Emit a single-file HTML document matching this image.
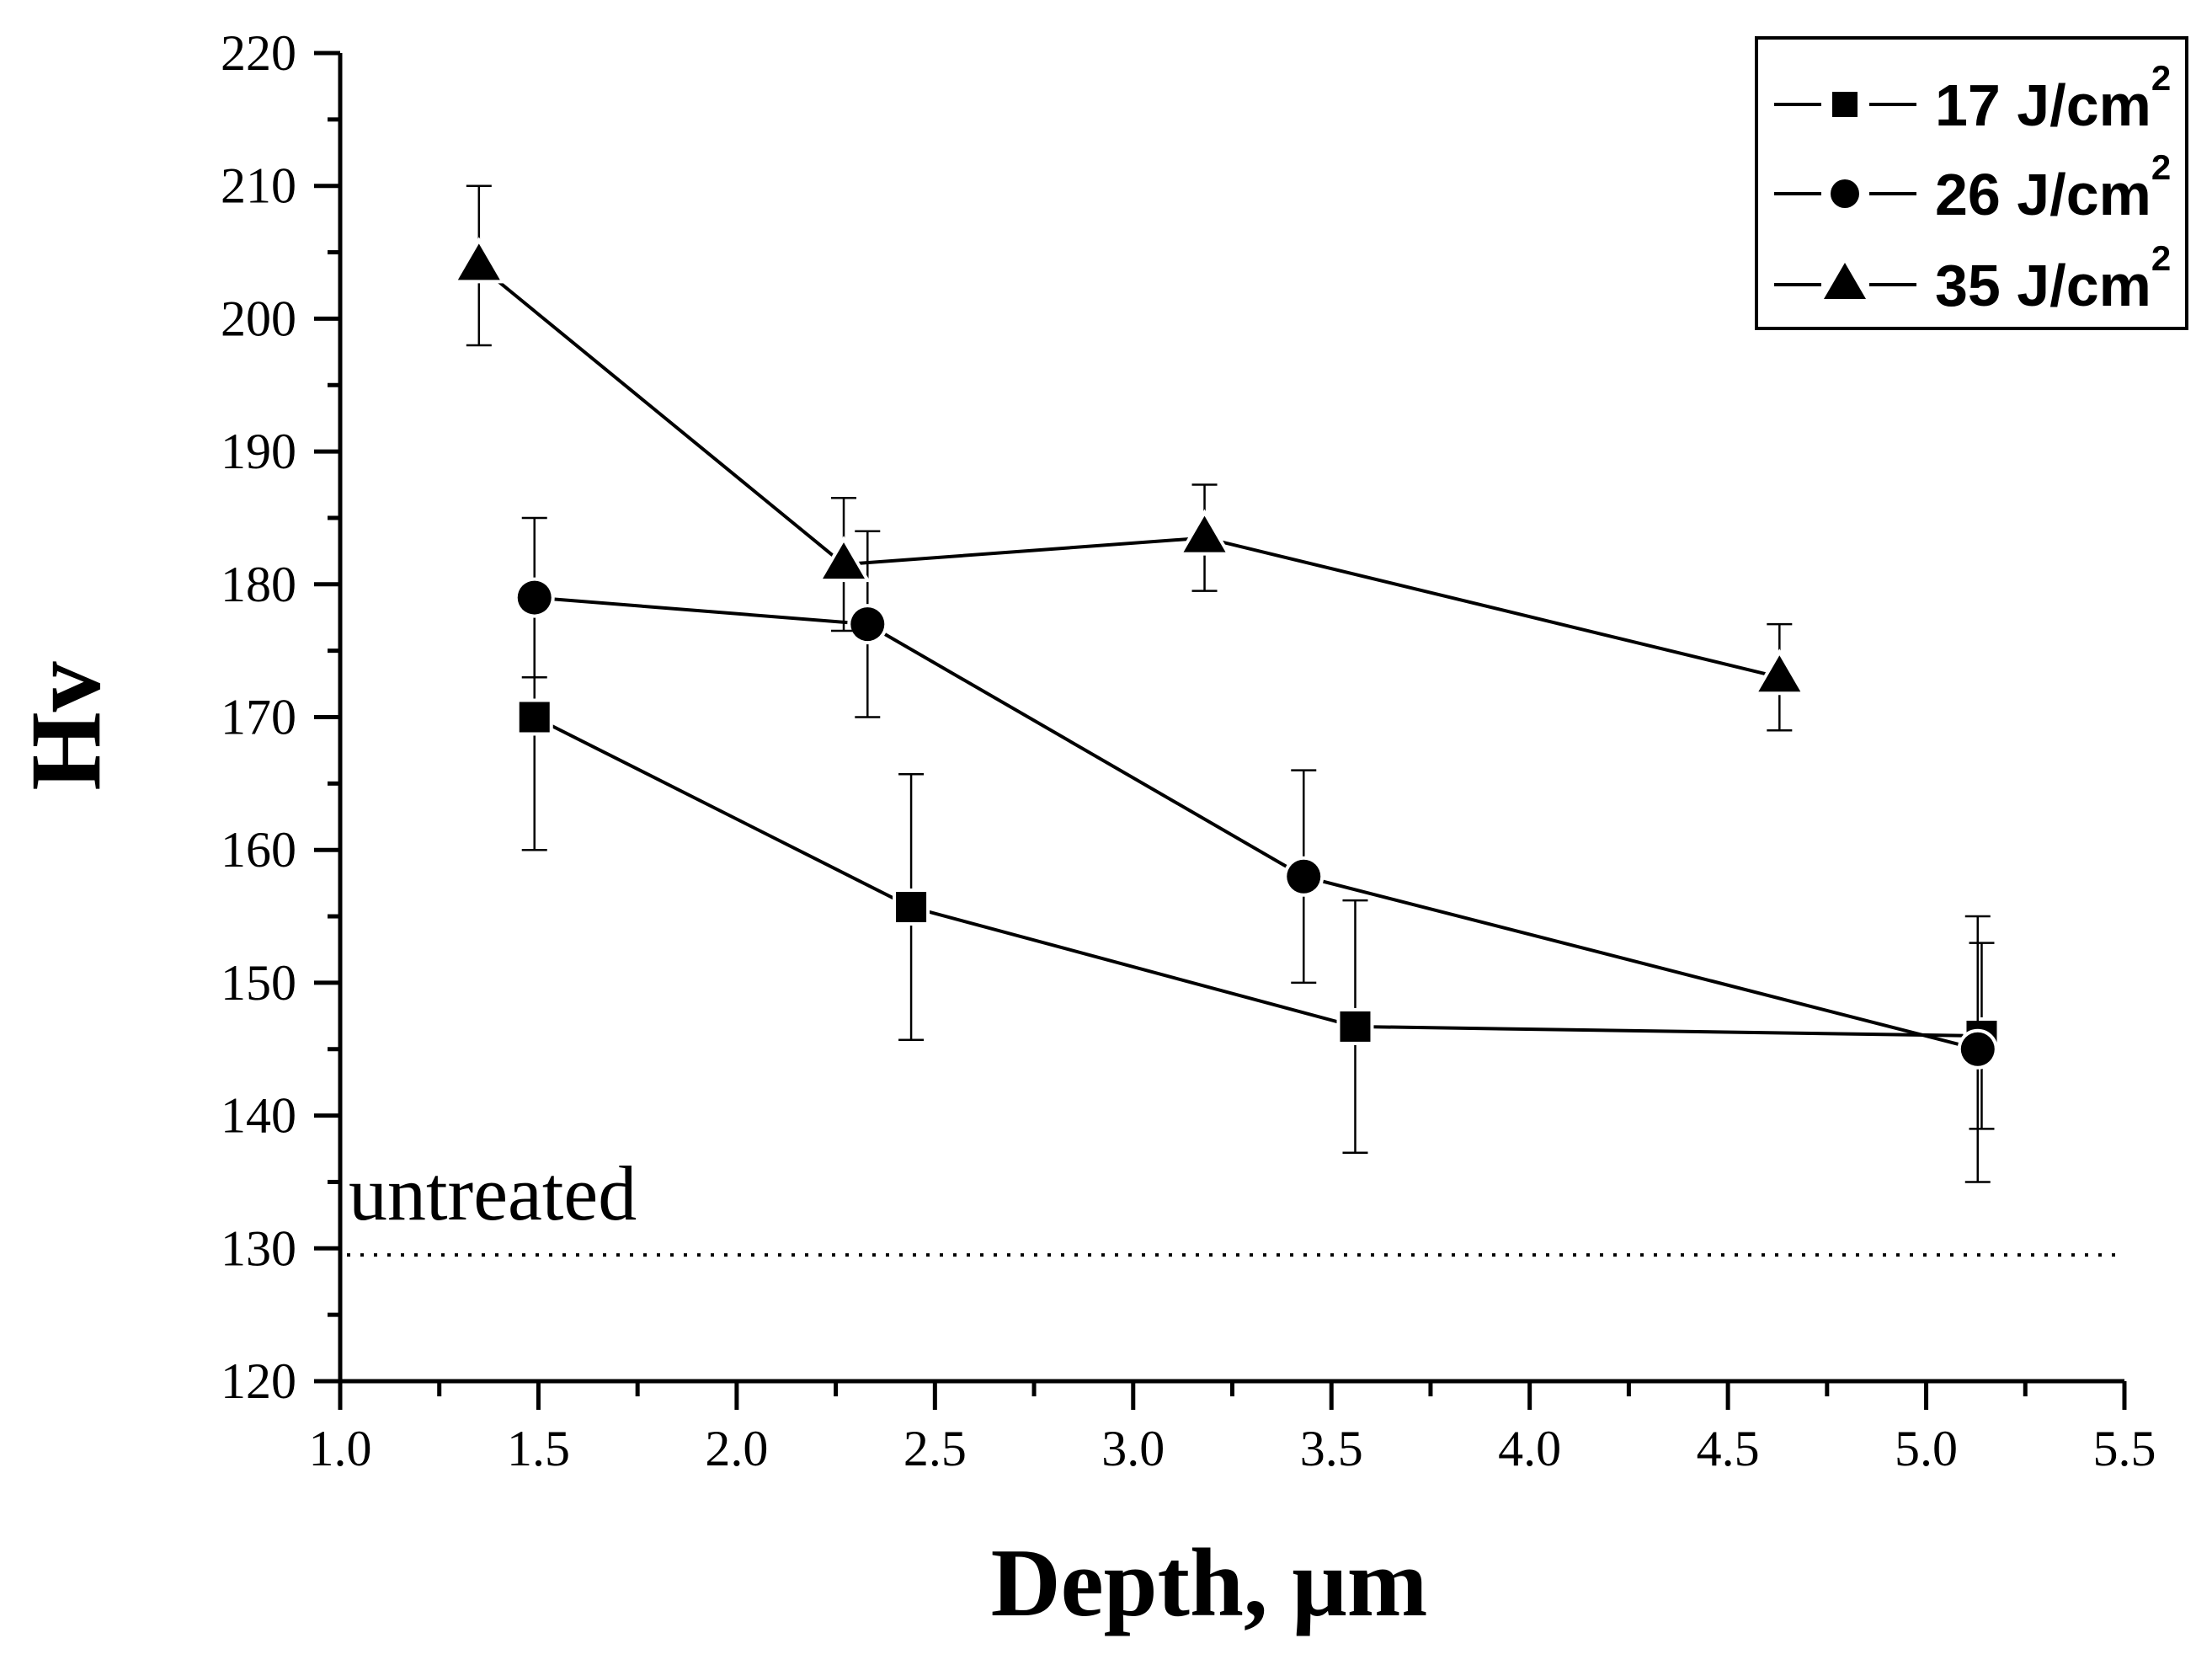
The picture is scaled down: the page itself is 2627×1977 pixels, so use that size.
<!DOCTYPE html>
<html><head><meta charset="utf-8"><style>
html,body{margin:0;padding:0;background:#fff;}
svg{display:block;}
</style></head><body>
<svg id="chart" width="2627" height="1977" viewBox="0 0 2627 1977" xmlns="http://www.w3.org/2000/svg">
<g id="axes"></g>
<g id="plot"></g>
<text x="414" y="1448" font-family="Liberation Serif, serif" font-size="92">untreated</text>
<text transform="translate(118,862) rotate(-90)" text-anchor="middle" font-family="Liberation Serif, serif" font-weight="bold" font-size="120">Hv</text>
<text x="1436" y="1918" text-anchor="middle" font-family="Liberation Serif, serif" font-weight="bold" font-size="115">Depth, μm</text>
<g id="legend">
<rect x="2086" y="45" width="511" height="345" fill="#fff" stroke="#000" stroke-width="4"/>
</g>
</svg>
<script>
const xTicks = [1.0,1.5,2.0,2.5,3.0,3.5,4.0,4.5,5.0,5.5];
const xTickLabels = ["1.0","1.5","2.0","2.5","3.0","3.5","4.0","4.5","5.0","5.5"];
const yTicks = [120,130,140,150,160,170,180,190,200,210,220];
const yTickLabels = ["120","130","140","150","160","170","180","190","200","210","220"];
const seriesNames = ["17 J/cm","26 J/cm","35 J/cm"];
const x17 = [1.49,2.44,3.56,5.14];
const y17 = [170,155.7,146.7,146];
const e17 = [10,10,9.5,7];
const x26 = [1.49,2.33,3.43,5.13];
const y26 = [179,177,158,145];
const e26 = [6,7,8,10];
const x35 = [1.35,2.27,3.18,4.63];
const y35 = [204,181.5,183.5,173];
const e35 = [6,5,4,4];
const untreated = 129.5;

const NS="http://www.w3.org/2000/svg";
const X0=404, X1=2523, Y0=1640, Y1=63;
const sx=v=>X0+(v-1.0)/(5.5-1.0)*(X1-X0);
const sy=v=>Y0-(v-120)/(220-120)*(Y0-Y1);
function mk(tag,parent,attrs){const e=document.createElementNS(NS,tag);for(const k in attrs)e.setAttribute(k,attrs[k]);parent.appendChild(e);return e;}
const axes=document.getElementById('axes'), plot=document.getElementById('plot');

let a=mk('line',axes,{x1:X0,y1:Y0,x2:X1,y2:Y0,stroke:'#000','stroke-width':5});


a=mk('line',axes,{x1:X0,y1:Y0+2,x2:X0,y2:Y1,stroke:'#000','stroke-width':5});



xTicks.forEach((v,i)=>{
  const t=mk('line',axes,{x1:sx(v),y1:Y0,x2:sx(v),y2:Y0+34,stroke:'#000','stroke-width':5});
  
  
  if(i<xTicks.length-1){
    const m=mk('line',axes,{x1:sx(v+0.25),y1:Y0,x2:sx(v+0.25),y2:Y0+18,stroke:'#000','stroke-width':5});
    
    
  }
  const l=mk('text',axes,{x:sx(v),y:Y0+100,'text-anchor':'middle','font-family':'Liberation Serif, serif','font-size':60});
  l.textContent=xTickLabels[i];
  
  
});
yTicks.forEach((v,i)=>{
  const t=mk('line',axes,{x1:X0,y1:sy(v),x2:X0-31,y2:sy(v),stroke:'#000','stroke-width':5});
  
  
  if(i<yTicks.length-1){
    const m=mk('line',axes,{x1:X0,y1:sy(v+5),x2:X0-15,y2:sy(v+5),stroke:'#000','stroke-width':5});
    
    
  }
  const l=mk('text',axes,{x:352,y:sy(v)+20,'text-anchor':'end','font-family':'Liberation Serif, serif','font-size':60});
  l.textContent=yTickLabels[i];
  
  
});

const ul=mk('line',plot,{x1:X0+8,y1:sy(untreated),x2:X1,y2:sy(untreated),stroke:'#000','stroke-width':4,'stroke-dasharray':'4 12'});



function marker(parent,type,cx,cy,stroke,sw){
  let m;
  if(type==='square') m=mk('rect',parent,{x:cx-18,y:cy-18,width:36,height:36});
  else if(type==='circle') m=mk('circle',parent,{cx:cx,cy:cy,r:20});
  else m=mk('polygon',parent,{points:`${cx},${cy-26} ${cx+25},${cy+17} ${cx-25},${cy+17}`});
  m.setAttribute('fill','#000');m.setAttribute('stroke',stroke);m.setAttribute('stroke-width',sw);
  return m;
}
function series(xs,ys,es,type,name){
  const g=mk('g',plot,{});
  
  
  const pts=xs.map((x,i)=>sx(x)+','+sy(ys[i])).join(' ');
  const pl=mk('polyline',g,{points:pts,fill:'none',stroke:'#000','stroke-width':4});
  
  
  xs.forEach((x,i)=>{
    const cx=sx(x),t=sy(ys[i]+es[i]),b=sy(ys[i]-es[i]);
    const eb=mk('path',g,{d:`M${cx},${t}V${b}M${cx-15},${t}H${cx+15}M${cx-15},${b}H${cx+15}`,stroke:'#000','stroke-width':2.5,fill:'none'});
    
    
  });
  xs.forEach((x,i)=>{
    const m=marker(g,type,sx(x),sy(ys[i]),'#fff',8);
    m.setAttribute('paint-order','stroke');
    
    
  });
}
series(x17,y17,e17,'square','series-17');
series(x26,y26,e26,'circle','series-26');
series(x35,y35,e35,'triangle','series-35');

const lg=document.getElementById('legend');
const rowsY=[124,230,338], types=['square','circle','triangle'];
rowsY.forEach((ry,i)=>{
  const g=mk('g',lg,{});
  
  
  mk('line',g,{x1:2107,y1:ry,x2:2163,y2:ry,stroke:'#000','stroke-width':4});
  mk('line',g,{x1:2220,y1:ry,x2:2276,y2:ry,stroke:'#000','stroke-width':4});
  const m=marker(g,types[i],2191,ry,'none',0);
  if(types[i]==='square'){m.setAttribute('x',2176);m.setAttribute('y',ry-15);m.setAttribute('width',30);m.setAttribute('height',30);}
  if(types[i]==='circle'){m.setAttribute('r',17);}
  const t=mk('text',g,{x:2298,y:ry+25,'font-family':'Liberation Sans, sans-serif','font-weight':'bold','font-size':70});
  t.textContent=seriesNames[i];
  
  
  const s=mk('tspan',t,{dy:-42,'font-size':42});
  s.textContent='2';
});
</script>
</body></html>
